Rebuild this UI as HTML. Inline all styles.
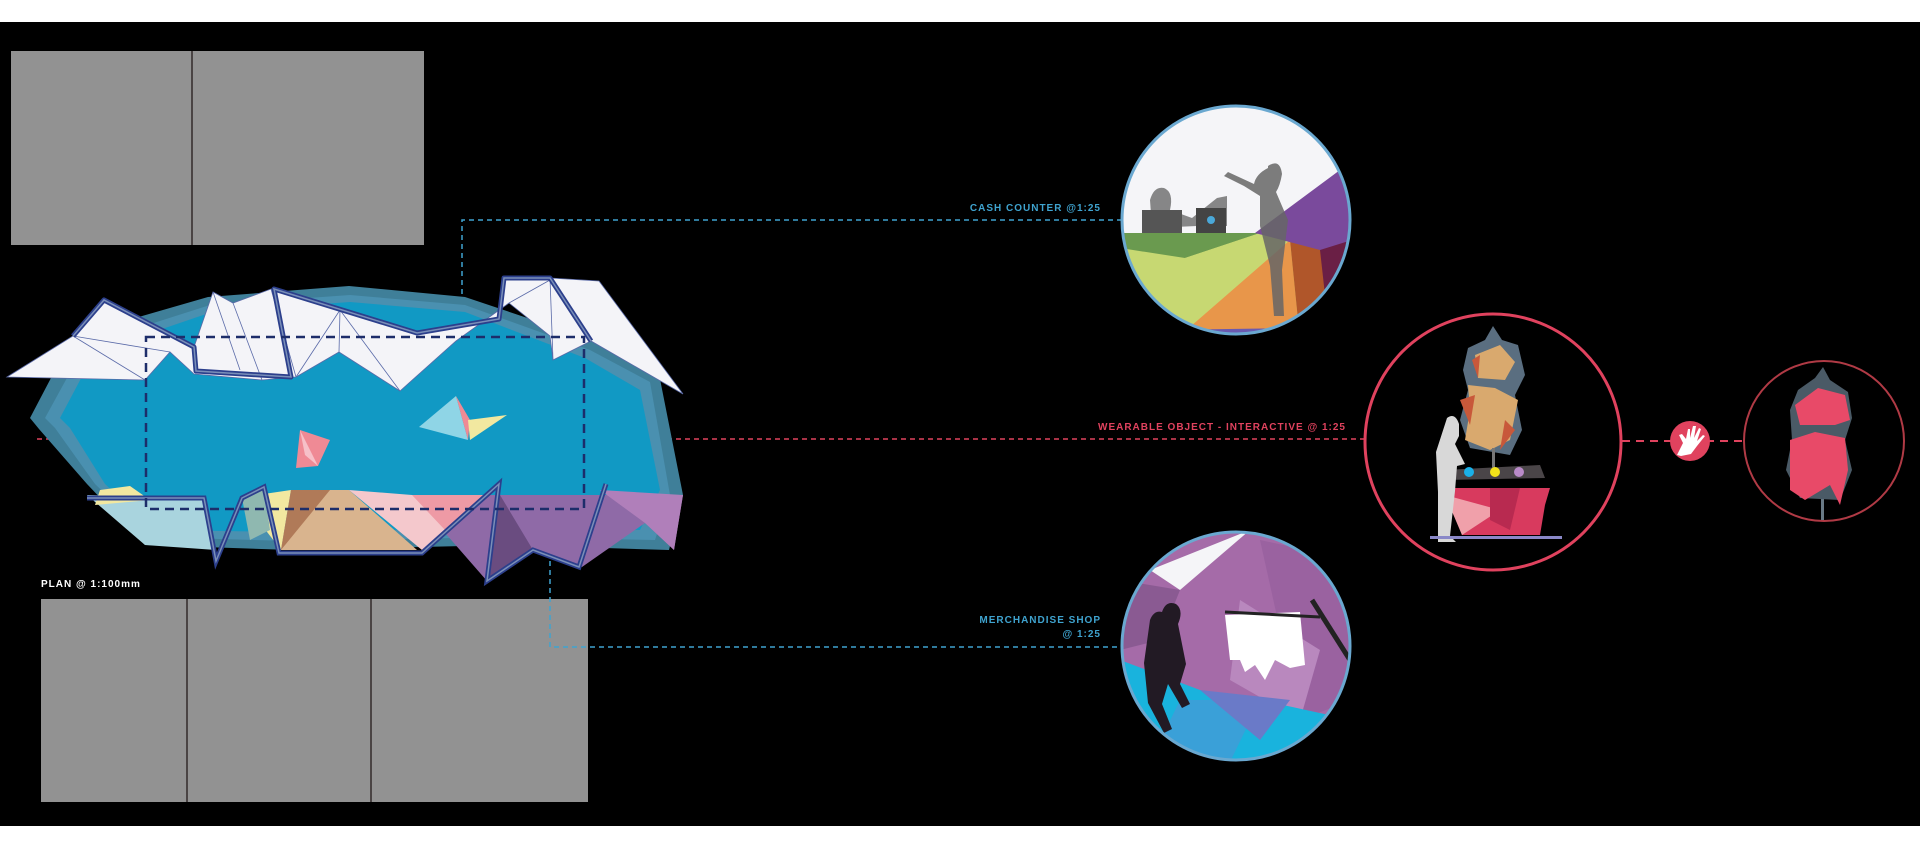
<!DOCTYPE html>
<html><head><meta charset="utf-8"><style>
html,body{margin:0;padding:0;background:#fff;}
svg{display:block;}
text{font-family:"Liberation Sans",sans-serif;font-weight:bold;letter-spacing:1px;}
</style></head><body>
<svg width="1920" height="863" viewBox="0 0 1920 863" xmlns="http://www.w3.org/2000/svg">
<defs>
<clipPath id="c1"><circle cx="1236" cy="220" r="114"/></clipPath>
<clipPath id="c3"><circle cx="1236" cy="646" r="114"/></clipPath>
</defs>
<rect x="0" y="0" width="1920" height="863" fill="#fff"/>
<rect x="0" y="22" width="1920" height="804" fill="#000"/>

<!-- gray blocks -->
<rect x="11" y="51" width="413" height="194" fill="#929292"/>
<rect x="191" y="51" width="2" height="194" fill="#4a4444"/>
<rect x="41" y="599" width="547" height="203" fill="#929292"/>
<rect x="186" y="599" width="2" height="203" fill="#4a4444"/>
<rect x="370" y="599" width="2" height="203" fill="#4a4444"/>
<text x="41" y="587" fill="#fff" font-size="10">PLAN @ 1:100mm</text>

<!-- connectors -->
<polyline points="462,294 462,220 1121,220" fill="none" stroke="#3fa3cf" stroke-width="1.5" stroke-dasharray="5,4"/>
<polyline points="550,534 550,647 1121,647" fill="none" stroke="#3fa3cf" stroke-width="1.5" stroke-dasharray="5,4"/>
<line x1="37" y1="439" x2="1365" y2="439" stroke="#e0425e" stroke-width="1.5" stroke-dasharray="5,4"/>
<line x1="1622" y1="441" x2="1743" y2="441" stroke="#e0425e" stroke-width="2" stroke-dasharray="8,6"/>

<!-- plan shape -->
<polygon points="30,418 73,336 208,297 349,286 465,297 596,341 659,374 683,495 669,550 509,545 291,550 145,545 87,484 39,429" fill="#3f7f99"/>
<polygon points="45,418 85,345 210,305 350,295 465,305 590,350 650,382 670,495 655,540 509,537 291,541 150,537 95,484 55,428" fill="#4a90b0"/>
<polygon points="60,418 95,352 212,312 350,302 465,312 585,358 640,390 660,490 640,530 509,528 291,532 155,530 105,484 70,428" fill="#1199c4"/>
<!-- bottom shards -->
<polygon points="87,495 204,498 216,550 145,545" fill="#a9d4de"/>
<polygon points="100,490 130,486 150,500 95,505" fill="#f2e8a0"/>
<polygon points="257,495 291,490 281,550 264,528" fill="#f2e8a0"/>
<polygon points="242,498 264,487 270,530 250,540" fill="#8fb8b0"/>
<polygon points="281,550 291,490 349,490 417,550" fill="#d9b48e"/>
<polygon points="281,550 291,490 330,490" fill="#b07a58"/>
<polygon points="349,490 412,495 490,495 422,550" fill="#f4c8cc"/>
<polygon points="412,495 490,495 445,530" fill="#ee9aa5"/>
<polygon points="490,495 683,495 674,550 645,523 582,567 533,550 487,581 446,534" fill="#8f6aa7"/>
<polygon points="600,490 683,495 674,550 645,523" fill="#b07fba"/>
<polygon points="500,495 533,550 487,581" fill="#6a4c80"/>
<!-- bottom outline -->
<polyline points="87,498 204,498 216,561 242,498 264,487 279,553 422,553 499,484 487,581 533,550 579,567 606,484" fill="none" stroke="#2c3f8c" stroke-width="5"/>
<polyline points="87,498 204,498 216,561 242,498 264,487 279,553 422,553 499,484 487,581 533,550 579,567 606,484" fill="none" stroke="#7a8fb8" stroke-width="1.5"/>
<!-- top white shards -->
<polygon points="7,377 73,336 104,300 194,347 213,292 233,303 271,289 417,333 499,319 504,278 550,278 599,281 683,394 591,341 553,360 550,336 509,303 456,341 400,391 339,352 296,377 262,380 194,374 170,352 145,380" fill="#f4f4f8" stroke="#5a6aa8" stroke-width="0.8"/>
<g stroke="#5a6aa8" stroke-width="0.8" fill="none">
<line x1="73" y1="336" x2="145" y2="380"/><line x1="73" y1="336" x2="170" y2="352"/>
<line x1="213" y1="292" x2="240" y2="370"/><line x1="233" y1="303" x2="262" y2="380"/>
<line x1="271" y1="289" x2="296" y2="377"/><line x1="340" y1="310" x2="339" y2="352"/>
<line x1="340" y1="310" x2="400" y2="391"/><line x1="550" y1="278" x2="553" y2="360"/>
<line x1="509" y1="303" x2="550" y2="280"/><line x1="296" y1="377" x2="340" y2="310"/>
</g>
<polyline points="73,336 104,300 194,347 196,371 291,377 274,289 417,333 499,319 504,278 550,278 591,341" fill="none" stroke="#2c3f8c" stroke-width="5" stroke-linejoin="round"/>
<polyline points="73,336 104,300 194,347 196,371 291,377 274,289 417,333 499,319 504,278 550,278 591,341" fill="none" stroke="#7a8fb8" stroke-width="1.5"/>
<!-- small shards -->
<polygon points="300,430 330,440 318,466 296,468" fill="#ef8a95"/>
<polygon points="300,430 318,466 305,455" fill="#f6c0c8"/>
<polygon points="419,427 456,396 468,440" fill="#8fd5e6"/>
<polygon points="456,396 470,420 468,440" fill="#ef8a95"/>
<polygon points="468,420 507,415 470,440" fill="#f2e8a0"/>
<!-- dashed plan rect -->
<rect x="146" y="337" width="438" height="172" fill="none" stroke="#1d2d6a" stroke-width="2.5" stroke-dasharray="9,6"/>

<!-- Cash circle -->
<g clip-path="url(#c1)">
<rect x="1120" y="104" width="232" height="232" fill="#f5f5f8"/>
<polygon points="1120,233 1352,233 1352,340 1120,340" fill="#c7d872"/>
<polygon points="1120,233 1260,233 1185,258 1120,248" fill="#6a9a4f"/>
<polygon points="1185,258 1260,233 1280,240 1175,340" fill="#c7d872"/>
<polygon points="1175,340 1290,240 1300,340" fill="#e8964a"/>
<polygon points="1290,240 1330,245 1340,300 1300,340" fill="#b0562a"/>
<polygon points="1255,233 1340,170 1352,150 1352,290 1320,250" fill="#7a4a9c"/>
<polygon points="1320,250 1352,240 1352,300 1325,295" fill="#6a1f45"/>
<polygon points="1160,330 1300,328 1300,340 1160,340" fill="#6a5ab0"/>
<!-- silhouettes -->
<path d="M1150,200 q4,-14 14,-12 q10,4 6,22 l22,8 l25,-20 l10,-2 l0,30 l-30,0 l-45,2 z" fill="#7a7a7a" opacity="0.9"/>
<rect x="1142" y="210" width="40" height="23" fill="#555"/>
<rect x="1196" y="208" width="30" height="25" fill="#444"/>
<circle cx="1211" cy="220" r="4" fill="#4aa8d8"/>
<path d="M1268,166 q12,-8 14,8 q-2,12 -6,18 l12,28 l-6,50 l2,46 l-10,0 l-4,-50 l-10,-40 l0,-30 l-16,-10 l-20,-10 l4,-4 l26,12 q2,-10 14,-16 z" fill="#666" opacity="0.85"/>
</g>
<circle cx="1236" cy="220" r="114" fill="none" stroke="#6aa8d0" stroke-width="3"/>
<text x="1101" y="211" fill="#3fa3cf" font-size="10" text-anchor="end">CASH COUNTER @1:25</text>

<!-- Wearable circle -->
<circle cx="1493" cy="442" r="128" fill="#000" stroke="#e0425e" stroke-width="3"/>
<polygon points="1493,326 1502,340 1518,345 1525,375 1515,395 1522,430 1510,455 1470,448 1460,420 1468,390 1463,370 1468,348 1485,340" fill="#5a6e80"/>
<polygon points="1475,355 1500,345 1515,362 1505,380 1478,378" fill="#d9a96e"/>
<polygon points="1468,385 1495,388 1518,400 1510,440 1490,450 1465,440 1470,410" fill="#d9a96e"/>
<polygon points="1460,400 1475,395 1470,425" fill="#c8583a"/>
<polygon points="1505,420 1515,430 1500,450" fill="#c8583a"/>
<polygon points="1472,360 1480,355 1478,378" fill="#c8583a"/>
<rect x="1492" y="448" width="3" height="25" fill="#777"/>
<polygon points="1445,470 1540,465 1545,478 1445,480" fill="#4a4548"/>
<circle cx="1469" cy="472" r="5" fill="#1ab0e8"/>
<circle cx="1495" cy="472" r="5" fill="#f2e21a"/>
<circle cx="1519" cy="472" r="5" fill="#b98ac8"/>
<polygon points="1445,488 1550,488 1545,505 1540,535 1462,535" fill="#d83a5e"/>
<polygon points="1445,495 1500,510 1462,535" fill="#f0a0aa"/>
<polygon points="1490,488 1520,488 1510,530 1490,520" fill="#b82a50"/>
<path d="M1447,418 q8,-6 12,6 l0,12 l-4,8 l10,20 l-8,2 l-2,25 l-5,45 l6,6 l-18,0 l0,-50 l-2,-40 z" fill="#d8d8d8"/>
<rect x="1430" y="536" width="132" height="3" fill="#8a88c8"/>

<!-- hand -->
<circle cx="1690" cy="441" r="20" fill="#e0425e"/>
<path d="M1677,455 l6,-12 l-4,-8 l3,-1 l4,5 l2,-10 l2,0 l0,9 l3,-12 l3,0 l-2,12 l5,-10 l2,1 l-4,12 l6,-6 l2,1 l-8,10 l-6,8 l-10,2 z" fill="#fff"/>

<!-- right circle -->
<circle cx="1824" cy="441" r="80" fill="#000" stroke="#b03a45" stroke-width="2"/>
<rect x="1821" y="480" width="3" height="40" fill="#6a7a86"/>
<polygon points="1823,367 1830,380 1848,392 1852,418 1845,440 1852,470 1840,500 1800,498 1786,470 1792,440 1790,410 1798,390 1815,378" fill="#4a5a66"/>
<polygon points="1795,405 1818,388 1845,395 1850,420 1835,425 1800,425" fill="#e84a68"/>
<polygon points="1790,440 1815,432 1845,438 1848,470 1840,505 1830,485 1805,500 1790,490" fill="#e84a68"/>

<!-- merch circle -->
<g clip-path="url(#c3)">
<rect x="1120" y="530" width="232" height="232" fill="#a56ba8"/>
<polygon points="1150,570 1250,530 1180,590" fill="#f5f5f8"/>
<polygon points="1120,580 1180,590 1160,640 1120,650" fill="#8a5a92"/>
<polygon points="1260,540 1352,560 1352,700 1300,720" fill="#9a62a0"/>
<polygon points="1240,600 1320,650 1300,720 1230,680" fill="#b988be"/>
<polygon points="1120,660 1200,690 1260,700 1352,720 1352,762 1120,762" fill="#19b3dd"/>
<polygon points="1180,700 1260,700 1230,762 1150,762" fill="#3aa0d8"/>
<polygon points="1200,690 1290,700 1260,740" fill="#6a7ac8"/>
<path d="M1150,620 q4,-10 12,-8 q4,-12 14,-8 q8,6 2,20 l8,40 l-6,20 l10,20 l-8,4 l-14,-24 l-6,20 l10,25 l-8,4 l-16,-30 l-4,-40 z" fill="#221a24"/>
<polygon points="1225,615 1300,612 1305,665 1290,668 1275,660 1265,680 1255,665 1245,672 1240,660 1230,660" fill="#fff"/>
<line x1="1225" y1="612" x2="1320" y2="617" stroke="#222" stroke-width="3"/>
<line x1="1312" y1="600" x2="1350" y2="660" stroke="#222" stroke-width="5"/>
</g>
<circle cx="1236" cy="646" r="114" fill="none" stroke="#6aa8d0" stroke-width="3"/>
<text x="1101" y="623" fill="#3fa3cf" font-size="10" text-anchor="end">MERCHANDISE SHOP</text>
<text x="1101" y="637" fill="#3fa3cf" font-size="10" text-anchor="end">@ 1:25</text>

<text x="1346" y="430" fill="#e0425e" font-size="10" text-anchor="end">WEARABLE OBJECT - INTERACTIVE  @ 1:25</text>
</svg>
</body></html>
